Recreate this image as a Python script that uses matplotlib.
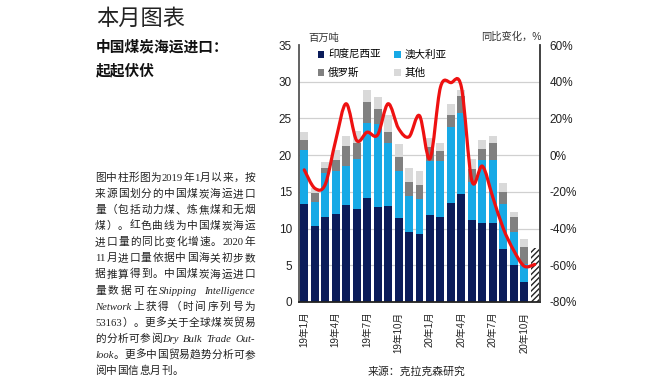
import re
import numpy as np
import matplotlib
matplotlib.use("Agg")
import matplotlib.pyplot as plt
from matplotlib.patches import Patch, PathPatch
from matplotlib.path import Path

# ---------------- data ----------------
months = ["19年1月", "19年2月", "19年3月", "19年4月", "19年5月", "19年6月", "19年7月", "19年8月",
          "19年9月", "19年10月", "19年11月", "19年12月", "20年1月", "20年2月", "20年3月", "20年4月",
          "20年5月", "20年6月", "20年7月", "20年8月", "20年9月", "20年10月", "20年11月"]
tick_labels = ["19年1月", "19年4月", "19年7月", "19年10月", "20年1月", "20年4月", "20年7月", "20年10月"]
tick_idx = [0, 3, 6, 9, 12, 15, 18, 21]

indonesia = [13.3, 10.3, 11.6, 12.0, 13.2, 12.6, 14.1, 13.0, 13.1, 11.4, 9.5, 9.2,
             11.9, 11.6, 13.5, 14.7, 11.1, 10.7, 10.7, 7.2, 5.0, 2.7, 0.0]
australia = [7.4, 3.3, 6.0, 5.8, 5.3, 6.9, 10.3, 11.2, 8.5, 6.4, 5.0, 4.8,
             7.3, 7.6, 10.3, 11.0, 5.3, 8.7, 8.7, 6.2, 4.6, 2.5, 0.0]
russia = [1.3, 1.2, 0.7, 1.6, 2.7, 2.1, 2.8, 2.1, 1.6, 1.9, 1.9, 2.0,
          1.9, 1.4, 1.6, 2.3, 1.7, 1.4, 2.2, 1.6, 2.0, 2.3, 0.0]
other = [1.1, 0.7, 0.8, 1.3, 1.4, 1.7, 1.7, 1.6, 2.3, 1.8, 1.8, 1.8,
         1.2, 1.1, 1.5, 0.9, 1.4, 1.2, 1.0, 1.2, 0.7, 1.1, 0.0]
estimate = [0, 0, 0, 0, 0, 0, 0, 0, 0, 0, 0, 0, 0, 0, 0, 0, 0, 0, 0, 0, 0, 0, 7.3]
yoy = [-8, -18, -16, 8, 28, 8, 12.5, 11, 28, 14.5, 10, 21.5,
       -2, 37, 39.5, 37, -14, -6, -23, -40, -52, -60.5, -59.5]

series_names = ["印度尼西亚", "澳大利亚", "俄罗斯", "其他"]
colors = ["#0b1c5a", "#17a9e6", "#808080", "#d9d9d9"]

CJK = "Noto Sans CJK SC"
SANS = ["Liberation Sans", CJK]
plt.rcParams["font.family"] = SANS

W, H = 670, 380
fig = plt.figure(figsize=(W / 100, H / 100), dpi=100)
fig.patch.set_facecolor("white")

def fx(px):
    return px / W

def fy(py):
    return 1 - py / H

ax = fig.add_axes([fx(299), fy(302), fx(540) - fx(299), fy(45) - fy(302)])
x = np.arange(len(months))
bw = 0.76
bottom = np.zeros(len(months))
for vals, c, name in zip([indonesia, australia, russia, other], colors, series_names):
    ax.bar(x, vals, bw, bottom=bottom, color=c, linewidth=0, zorder=2)
    bottom = bottom + np.array(vals)
ax.bar(x, estimate, bw, bottom=bottom, facecolor="white", edgecolor="#222222",
       hatch="//////", linewidth=0, zorder=2)

ax.set_xlim(-0.5, len(months) - 0.5)
ax.set_ylim(0, 35)
ax.set_yticks(np.arange(0, 36, 5))
ax.yaxis.grid(True, color="#d0d0d0", linewidth=0.9, zorder=0)
ax.set_axisbelow(True)
ax.yaxis.get_gridlines()[-1].set_visible(False)
ax.set_xticks(tick_idx)
ax.set_xticklabels(tick_labels, rotation=90, fontsize=7, family=SANS)
ax.tick_params(axis="x", length=0, pad=7, colors="#222222")
ax.tick_params(axis="y", length=0, pad=5, labelsize=8.5, colors="#222222")
for s in ["top", "right"]:
    ax.spines[s].set_visible(False)
ax.spines["left"].set_color("#555555")
ax.spines["left"].set_linewidth(1.3)
ax.spines["bottom"].set_color("#222222")
ax.spines["bottom"].set_linewidth(1.3)

# legend
handles = [Patch(facecolor=c, edgecolor="none") for c in colors]
leg = ax.legend([handles[i] for i in [0, 2, 1, 3]], [series_names[i] for i in [0, 2, 1, 3]],
                ncol=2, loc="upper left", bbox_to_anchor=((318 - 299) / 241, (302 - 50) / 257),
                frameon=False, handlelength=0.6, handleheight=0.6,
                handletextpad=0.35, columnspacing=1.3, labelspacing=0.75,
                borderpad=0, borderaxespad=0, prop={"family": SANS, "size": 7.6})

ax.text((308 - 299) / 241, (302 - 38) / 257, "百万吨", transform=ax.transAxes,
        fontsize=7.4, va="center", ha="left", color="#333333", family=SANS)

# right axis: yoy
ax2 = ax.twinx()
ax2.set_ylim(-80, 60)
ax2.set_yticks(np.arange(-80, 61, 20))
ax2.set_yticklabels([f"{v}%" for v in range(-80, 61, 20)])
ax2.tick_params(axis="y", length=0, pad=7, labelsize=8.5, colors="#222222")
for s in ["top", "left", "bottom"]:
    ax2.spines[s].set_visible(False)
ax2.spines["right"].set_color("#333333")
ax2.spines["right"].set_linewidth(1.3)
ax2.text((542 - 299) / 241, (302 - 37) / 257, "同比变化，%", transform=ax2.transAxes,
         fontsize=7.4, va="center", ha="right", color="#333333", family=SANS)

# smooth (Catmull-Rom via cubic Bezier) red curve through monthly values
p = np.column_stack([x, np.array(yoy, dtype=float)])
verts = [tuple(p[0])]
codes = [Path.MOVETO]
n = len(p)
for i in range(n - 1):
    p0 = p[i - 1] if i > 0 else p[i]
    p1 = p[i]
    p2 = p[i + 1]
    p3 = p[i + 2] if i + 2 < n else p[i + 1]
    c1 = p1 + (p2 - p0) / 6.0
    c2 = p2 - (p3 - p1) / 6.0
    verts += [tuple(c1), tuple(c2), tuple(p2)]
    codes += [Path.CURVE4] * 3
ax2.add_patch(PathPatch(Path(verts, codes), facecolor="none", edgecolor="#ee1111",
                        linewidth=2.3, capstyle="round", joinstyle="round", zorder=5))

# ---------------- left text ----------------
fig.text(fx(96), fy(18), "本月图表", fontsize=16, family=[CJK], weight="light",
         va="center", ha="left", color="#222222")
fig.text(fx(96), fy(46.5), "中国煤炭海运进口：", fontsize=10.6, family=[CJK], weight="bold",
         va="center", ha="left", color="#111111")
fig.text(fx(96), fy(70), "起起伏伏", fontsize=10.6, family=[CJK], weight="bold",
         va="center", ha="left", color="#111111")

PARA_FAM = ["Liberation Serif", CJK]
PSIZE = 7.7
lines = [
    ([("图中柱形图为2019年1月以来，按", False)], True),
    ([("来源国划分的中国煤炭海运进口", False)], True),
    ([("量（包括动力煤、炼焦煤和无烟", False)], True),
    ([("煤）。红色曲线为中国煤炭海运", False)], True),
    ([("进口量的同比变化增速。2020年", False)], True),
    ([("11月进口量依据中国海关初步数", False)], True),
    ([("据推算得到。中国煤炭海运进口", False)], True),
    ([("量数据可在", False), ("Shipping Intelligence", True)], True),
    ([("Network", True), ("上获得（时间序列号为", False)], True),
    ([("53163）。更多关于全球煤炭贸易", False)], True),
    ([("的分析可参阅", False), ("Dry Bulk Trade Out-", True)], True),
    ([("look", True), ("。更多中国贸易趋势分析可参", False)], True),
    ([("阅", False), ("中国信息月刊", True), ("。", False)], False),
]
renderer = fig.canvas.get_renderer()
_cache = {}

def width_of(s, italic):
    key = (s, italic)
    if key not in _cache:
        t = fig.text(0, 0, s, fontsize=PSIZE, family=PARA_FAM,
                     style="italic" if italic else "normal")
        _cache[key] = t.get_window_extent(renderer).width
        t.remove()
    return _cache[key]

x0, x1 = 95, 255
base0, step = 181, 16.08
for li, (segs, justify) in enumerate(lines):
    units = []
    for s, it in segs:
        for m in re.finditer(r"[A-Za-z0-9\-]+|\s+|.", s):
            u = m.group(0)
            units.append((u, it, u.isspace()))
    widths = [width_of("x", False) * 0.5 if sp else width_of(u, it) for u, it, sp in units]
    total = sum(widths)
    gaps = len(units) - 1
    extra = (x1 - x0 - total) / gaps if (justify and gaps > 0) else 0.4
    xpos = x0
    yb = base0 + li * step
    for (u, it, sp), w in zip(units, widths):
        if not sp:
            fig.text(fx(xpos), fy(yb), u, fontsize=PSIZE, family=PARA_FAM,
                     style="italic" if it else "normal", va="baseline", ha="left",
                     color="#222222")
        xpos += w + extra

fig.text(fx(417), fy(371.5), "来源：克拉克森研究", fontsize=7.8, family=[CJK],
         va="center", ha="center", color="#222222")

fig.savefig("out.png", dpi=100, facecolor="white")
